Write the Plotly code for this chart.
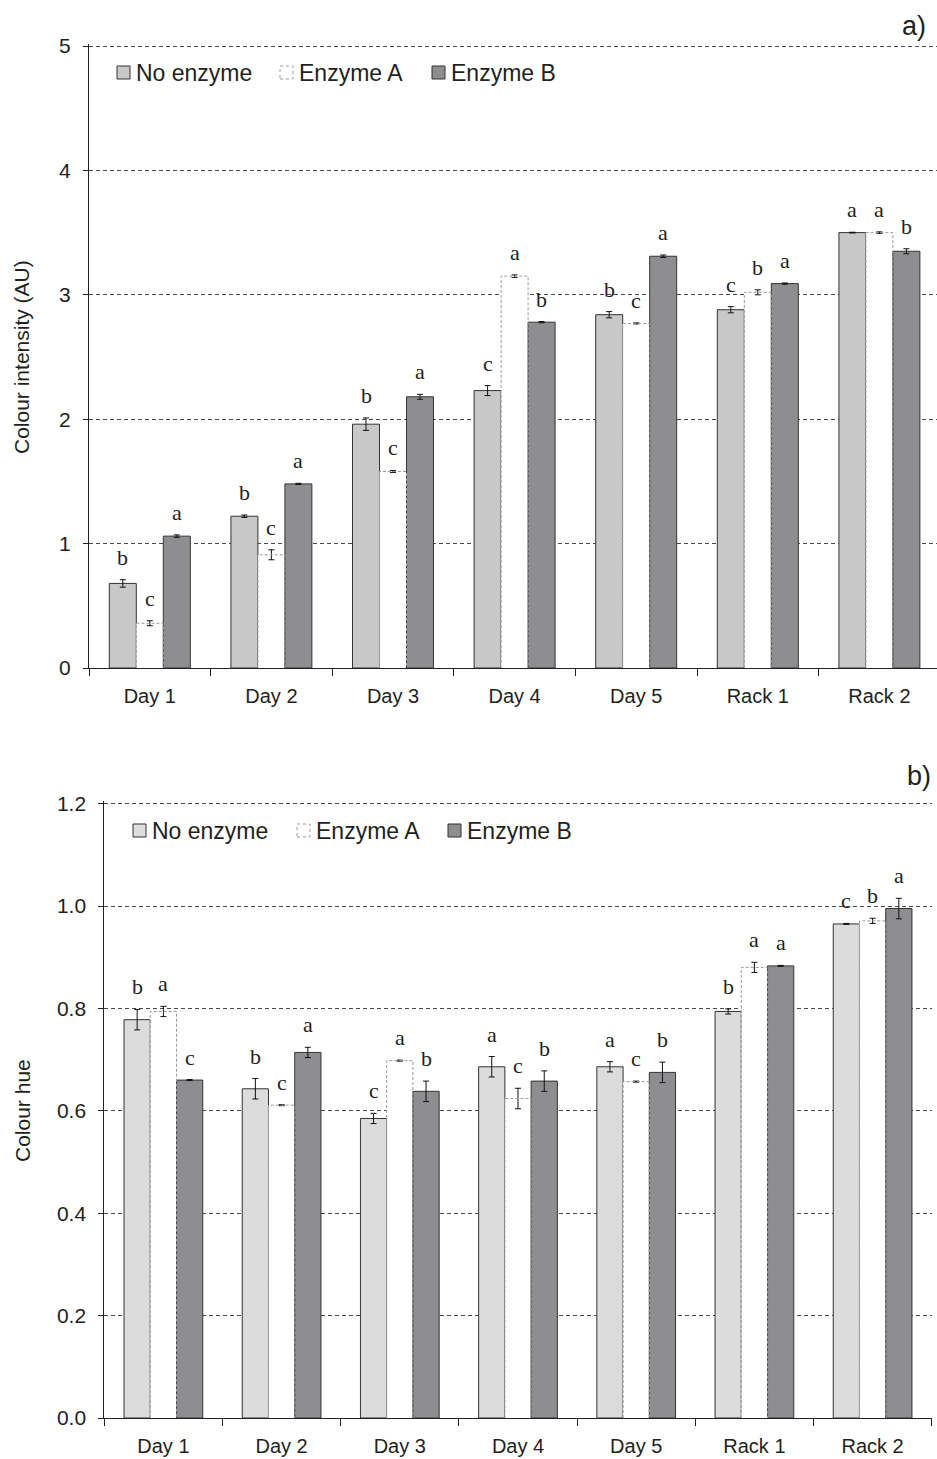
import plotly.graph_objects as go

W, H = 937, 1459

categories = ["Day 1", "Day 2", "Day 3", "Day 4", "Day 5", "Rack 1", "Rack 2"]
series_names = ["No enzyme", "Enzyme A", "Enzyme B"]

# Panel a) colour intensity (AU)
intensity_none = [0.68, 1.22, 1.96, 2.23, 2.84, 2.88, 3.50]
intensity_a = [0.36, 0.91, 1.58, 3.15, 2.77, 3.02, 3.50]
intensity_b = [1.06, 1.48, 2.18, 2.78, 3.31, 3.09, 3.35]
intensity_err_none = [0.03, 0.01, 0.05, 0.04, 0.025, 0.025, 0.003]
intensity_err_a = [0.02, 0.04, 0.008, 0.01, 0.004, 0.02, 0.006]
intensity_err_b = [0.01, 0.005, 0.02, 0.005, 0.01, 0.005, 0.02]
intensity_letters_none = ["b", "b", "b", "c", "b", "c", "a"]
intensity_letters_a = ["c", "c", "c", "a", "c", "b", "a"]
intensity_letters_b = ["a", "a", "a", "b", "a", "a", "b"]

# Panel b) colour hue
hue_none = [0.778, 0.643, 0.585, 0.686, 0.686, 0.794, 0.965]
hue_a = [0.794, 0.611, 0.698, 0.624, 0.657, 0.880, 0.971]
hue_b = [0.660, 0.714, 0.638, 0.658, 0.675, 0.883, 0.995]
hue_err_none = [0.02, 0.02, 0.01, 0.02, 0.01, 0.005, 0.001]
hue_err_a = [0.01, 0.001, 0.001, 0.02, 0.001, 0.01, 0.005]
hue_err_b = [0.001, 0.01, 0.02, 0.02, 0.02, 0.001, 0.02]
hue_letters_none = ["b", "b", "c", "a", "a", "b", "c"]
hue_letters_a = ["a", "c", "a", "c", "c", "a", "b"]
hue_letters_b = ["c", "a", "b", "b", "b", "a", "a"]

intensity_ticks = [0, 1, 2, 3, 4, 5]
hue_ticks = [0, 0.2, 0.4, 0.6, 0.8, 1.0, 1.2]
hue_tick_text = ["0.0", "0.2", "0.4", "0.6", "0.8", "1.0", "1.2"]

BAR_W = 0.222
SANS = "Liberation Sans, Arial, sans-serif"
SERIF = "Liberation Serif, Times New Roman, serif"
TXT = "#231f20"
EDGE = "#333333"
DASH_EDGE = "#9a9a9a"

fig = go.Figure()


def px_x(p):
    return p / W


def px_y(p):
    return 1 - p / H


def add_panel(xref, yref, values, errors, letters, fills, letter_px):
    """Three bar groups per category with error bars and significance letters."""
    idx = list(range(len(categories)))
    for k, (vals, errs, fill) in enumerate(zip(values, errors, fills)):
        xs = [i + (k - 1) * BAR_W for i in idx]
        dashed = fill is None
        fig.add_trace(go.Bar(
            x=xs, y=vals, width=BAR_W, xaxis=xref, yaxis=yref,
            name=series_names[k], showlegend=False,
            marker=dict(color="white" if dashed else fill,
                        line=dict(color=EDGE, width=0 if dashed else 1)),
            error_y=dict(type="data", array=errs, visible=True,
                         color="#111111", thickness=1, width=3),
        ))
        if dashed:
            ox, oy = [], []
            for x, v in zip(xs, vals):
                ox += [x - BAR_W / 2, x - BAR_W / 2, x + BAR_W / 2, x + BAR_W / 2, None]
                oy += [0, v, v, 0, None]
            fig.add_trace(go.Scatter(
                x=ox, y=oy, xaxis=xref, yaxis=yref, mode="lines",
                showlegend=False, hoverinfo="skip",
                line=dict(color=DASH_EDGE, width=1, dash="3px,2px"),
            ))
        for x, v, e, t in zip(xs, vals, errs, letters[k]):
            fig.add_annotation(
                x=x, y=v + e, xref=xref, yref=yref, text=t, showarrow=False,
                xanchor="center", yanchor="bottom", yshift=letter_px,
                font=dict(family=SERIF, size=22, color=TXT),
            )


def add_legend(x_starts, yc, fills):
    """Legend row of square swatches with labels (pixel coordinates)."""
    s = 13
    for name, fill, x in zip(series_names, fills, x_starts):
        dashed = fill is None
        fig.add_shape(
            type="rect", xref="paper", yref="paper",
            x0=px_x(x), x1=px_x(x + s), y0=px_y(yc + s / 2), y1=px_y(yc - s / 2),
            fillcolor="white" if dashed else fill,
            line=dict(color=DASH_EDGE if dashed else EDGE, width=1,
                      dash="dot" if dashed else "solid"),
        )
        fig.add_annotation(
            x=px_x(x + s + 4), y=px_y(yc), xref="paper", yref="paper",
            text=name, showarrow=False, xanchor="left", yanchor="middle",
            font=dict(family=SANS, size=23, color=TXT),
        )


fills_top = ["#c8c8c8", None, "#8e8e91"]
fills_bot = ["#dcdcdc", None, "#8e8e91"]

add_panel("x", "y",
          [intensity_none, intensity_a, intensity_b],
          [intensity_err_none, intensity_err_a, intensity_err_b],
          [intensity_letters_none, intensity_letters_a, intensity_letters_b],
          fills_top, 8)
add_panel("x2", "y2",
          [hue_none, hue_a, hue_b],
          [hue_err_none, hue_err_a, hue_err_b],
          [hue_letters_none, hue_letters_a, hue_letters_b],
          fills_bot, 8)

add_legend([117, 280, 432], 72.5, fills_top)
add_legend([133, 297, 448], 830.5, fills_bot)

# Axis titles and panel tags
for text, yc in [("Colour intensity (AU)", 357), ("Colour hue", 1111)]:
    fig.add_annotation(x=px_x(22), y=px_y(yc), xref="paper", yref="paper",
                       text=text, showarrow=False, textangle=-90,
                       xanchor="center", yanchor="middle",
                       font=dict(family=SANS, size=21, color=TXT))
for text, xc, yc in [("a)", 914, 26), ("b)", 919, 776)]:
    fig.add_annotation(x=px_x(xc), y=px_y(yc), xref="paper", yref="paper",
                       text=text, showarrow=False,
                       xanchor="center", yanchor="middle",
                       font=dict(family=SANS, size=27, color=TXT))

n = len(categories)
common_x = dict(
    tickmode="array", tickvals=list(range(n)), ticktext=categories,
    ticks="", showgrid=False, zeroline=False, showline=True,
    linecolor="#222222", linewidth=1, ticklabelstandoff=10,
    tickfont=dict(family=SANS, size=20, color=TXT),
    minor=dict(tickmode="array", tickvals=[i - 0.5 for i in range(n + 1)],
               ticks="outside", ticklen=7, tickcolor="#222222", showgrid=False),
    fixedrange=True,
)
common_y = dict(
    showline=True, linecolor="#222222", linewidth=1,
    ticks="outside", ticklen=5, tickcolor="#222222", ticklabelstandoff=8,
    showgrid=True, gridcolor="#4a4a4a", griddash="4px,3px", gridwidth=1,
    zeroline=False, tickfont=dict(family=SANS, size=21, color=TXT),
    fixedrange=True,
)

# Plot-area geometry in pixels; a little headroom above the top tick keeps
# its gridline visible.
x1_left, x1_step = 89, 121.6
x2_left, x2_step = 104.3, 118.2
y1_bottom, y1_px = 668, 124.4
y2_bottom, y2_px = 1418, 512.0
y1_max = intensity_ticks[-1] * 1.004
y2_max = hue_ticks[-1] * 1.004

fig.update_layout(
    width=W, height=H,
    margin=dict(l=0, r=0, t=0, b=0, autoexpand=False),
    paper_bgcolor="white", plot_bgcolor="white",
    barmode="overlay", showlegend=False,
    xaxis=dict(common_x, domain=[px_x(x1_left), 1.0], anchor="y",
               range=[-0.5, -0.5 + (W - x1_left) / x1_step]),
    yaxis=dict(common_y, anchor="x",
               domain=[px_y(y1_bottom), px_y(y1_bottom - y1_max * y1_px)],
               range=[0, y1_max], tickvals=intensity_ticks),
    xaxis2=dict(common_x, domain=[px_x(x2_left), px_x(x2_left + n * x2_step)],
                anchor="y2", range=[-0.5, n - 0.5]),
    yaxis2=dict(common_y, anchor="x2",
                domain=[px_y(y2_bottom), px_y(y2_bottom - y2_max * y2_px)],
                range=[0, y2_max], tickvals=hue_ticks, ticktext=hue_tick_text),
)

fig.write_html("out.html")
